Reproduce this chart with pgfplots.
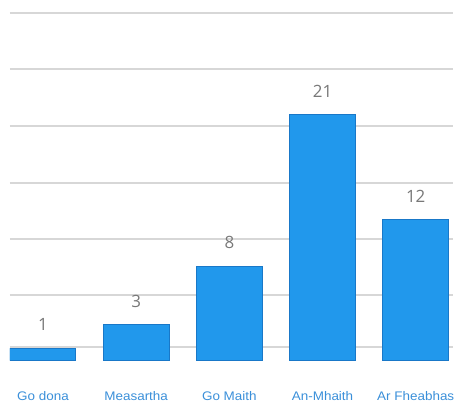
\documentclass[border=0pt]{standalone}
\usepackage{fontspec}
\setmainfont{Liberation Sans}
\newfontfamily\labfont[FakeStretch=1.08]{Liberation Sans}
\newfontfamily\valfont{Open Sans}
\usepackage{pgfplots}
\pgfplotsset{compat=1.18}
\definecolor{barblue}{RGB}{33,152,236}
\definecolor{baredge}{RGB}{25,120,200}
\definecolor{labblue}{RGB}{58,143,217}
\definecolor{valgray}{RGB}{120,120,120}
\definecolor{gridgray}{RGB}{215,215,215}
\begin{document}
\begin{tikzpicture}
\begin{axis}[
  scale only axis,
  width=443bp, height=360bp,
  xmin=-0.354, xmax=4.40,
  ymin=0, ymax=30.85,
  axis line style={draw=none},
  major tick length=0,
  ytick={1.11,5.57,10.37,15.17,20.05,24.94,29.73},
  yticklabels={},
  ymajorgrids,
  grid style={gridgray, line width=1.3bp},
  xtick=data,
  xticklabels={Go dona,Measartha,Go Maith,An-Mhaith,Ar Fheabhas},
  xticklabel style={font=\labfont\fontsize{12.5}{14}\selectfont, text=labblue, anchor=north, yshift=-31bp, inner sep=0pt},
  ybar, bar width=0.708,
  nodes near coords={\valfont\fontsize{17}{18}\selectfont\pgfmathprintnumber[assume math mode=true]{\pgfplotspointmeta}},
  every node near coord/.append style={text=valgray, anchor=south, yshift=17bp, inner sep=0pt},
]
\addplot[fill=barblue, draw=baredge, line width=1bp] coordinates {(0,1) (1,3) (2,8) (3,21) (4,12)};
\end{axis}
\pgfresetboundingbox
\path (current axis.south west) ++(-10bp,-45bp) coordinate (bbl);
\path (current axis.north east) ++(5bp,0bp) coordinate (btr);
\path[use as bounding box] (bbl) rectangle (btr);
\end{tikzpicture}
\end{document}
